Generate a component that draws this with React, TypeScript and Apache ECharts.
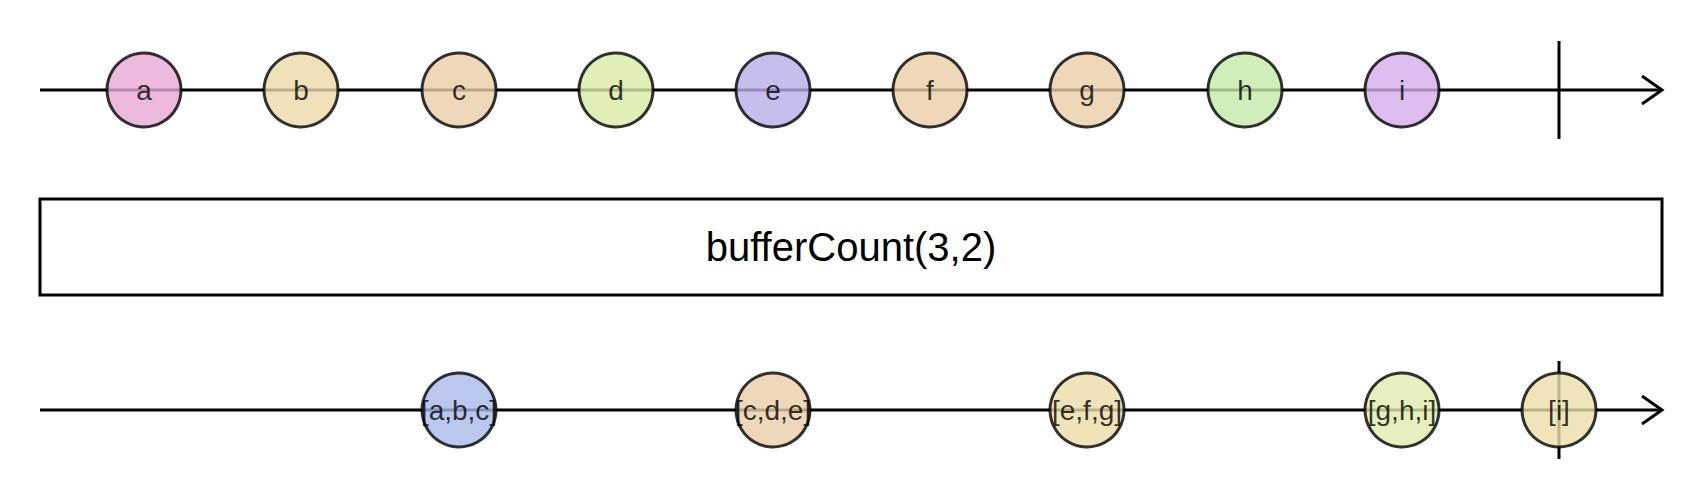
import { useEffect, useRef } from 'react';
import * as echarts from 'echarts';

const inputNames = ['a', 'b', 'c', 'd', 'e', 'f', 'g', 'h', 'i'];
const inputTimes = [104, 261, 419, 576, 733, 890, 1047, 1205, 1362];
const inputColors = ['#e8a9d4', '#ecd9a9', '#ebcda9', '#d9eaa5', '#b8afea', '#ebcda9', '#ebcda9', '#c3eaa9', '#d4abeb'];
const outputNames = ['[a,b,c]', '[c,d,e]', '[e,f,g]', '[g,h,i]', '[i]'];
const outputTimes = [419, 733, 1047, 1362, 1519];
const outputColors = ['#abb9ec', '#ebcda9', '#ecdca9', '#e0ebad', '#ecdfa9'];
const completeTime = 1519;
const operatorLabel = 'bufferCount(3,2)';

const FONT = '"Liberation Sans", Arial, sans-serif';
const LEFT = 40, W = 1622, TOP_Y = 90, BOT_Y = 410;

export default function App() {
  const ref = useRef<HTMLDivElement>(null);
  useEffect(() => {
    if (!ref.current) return;
    const chart = echarts.init(ref.current, undefined, { renderer: 'svg' });
    const px = (t: number) => LEFT + t;
    const arrow = (y: number) => [
      { type: 'line', shape: { x1: LEFT, y1: y, x2: LEFT + W, y2: y }, style: { stroke: '#000', lineWidth: 3 } },
      { type: 'polyline', shape: { points: [[LEFT + W - 20, y - 14], [LEFT + W, y], [LEFT + W - 20, y + 14]] }, style: { stroke: '#000', lineWidth: 3, fill: null } },
      { type: 'line', shape: { x1: px(completeTime), y1: y - 49, x2: px(completeTime), y2: y + 49 }, style: { stroke: '#000', lineWidth: 3 } },
    ];
    const marbles = (names: string[], times: number[], colors: string[], y: number, fs: number) => ({
      type: 'scatter',
      symbol: 'circle',
      symbolSize: 74,
      z: 5,
      data: names.map((n, i) => ({
        value: [times[i], y],
        name: n,
        itemStyle: { color: colors[i], borderColor: '#000', borderWidth: 3 },
      })),
      label: { show: true, position: 'inside', formatter: '{b}', color: '#000', fontSize: fs, fontFamily: FONT },
    });
    chart.setOption({
      animation: false,
      grid: { left: LEFT, top: 0, width: W, height: 500 },
      xAxis: { type: 'value', min: 0, max: W, show: false },
      yAxis: { type: 'value', min: 0, max: 500, inverse: true, show: false },
      graphic: [
        ...arrow(TOP_Y),
        ...arrow(BOT_Y),
        { type: 'rect', shape: { x: LEFT, y: 199, width: W, height: 96 }, style: { fill: '#fff', stroke: '#000', lineWidth: 3 } },
        { type: 'text', x: LEFT + W / 2, y: 247, style: { text: operatorLabel, fontSize: 40, fontFamily: FONT, fill: '#000', align: 'center', verticalAlign: 'middle' } },
      ],
      series: [
        marbles(inputNames, inputTimes, inputColors, TOP_Y, 28),
        marbles(outputNames, outputTimes, outputColors, BOT_Y, 28),
      ],
    });
    return () => chart.dispose();
  }, []);
  return <div ref={ref} style={{ position: 'fixed', left: 0, top: 0, width: 1700, height: 500, background: '#fff' }} />;
}
